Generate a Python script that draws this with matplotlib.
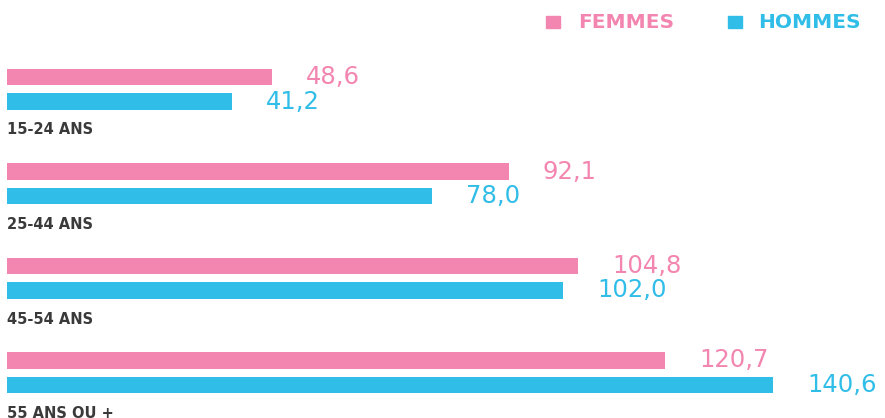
import matplotlib
matplotlib.use("Agg")
import matplotlib.pyplot as plt

categories = ["15-24 ANS", "25-44 ANS", "45-54 ANS", "55 ANS OU +"]
femmes = [48.6, 92.1, 104.8, 120.7]
hommes = [41.2, 78.0, 102.0, 140.6]
value_labels_f = ["48,6", "92,1", "104,8", "120,7"]
value_labels_h = ["41,2", "78,0", "102,0", "140,6"]
series_names = ["FEMMES", "HOMMES"]

PINK = "#F386B0"
BLUE = "#30BDE7"
DARK = "#3a3a3a"

W, H = 885, 418
fig = plt.figure(figsize=(W / 100, H / 100), dpi=100)
ax = fig.add_axes([0, 0, 1, 1])
scale = 5.45  # px per unit
ax.set_xlim(-7 / scale, (W - 7) / scale)
ax.set_ylim(H, 0)
ax.axis("off")

step = 94.5
bar_h = 16.5
yf0 = 77
yh0 = 101.5
lab0 = 130
gap = 34 / scale
font = "DejaVu Sans"

for i, cat in enumerate(categories):
    yf = yf0 + step * i
    yh = yh0 + step * i
    ax.barh(yf, femmes[i], height=bar_h, color=PINK, left=0)
    ax.barh(yh, hommes[i], height=bar_h, color=BLUE, left=0)
    ax.text(femmes[i] + gap, yf, value_labels_f[i], color=PINK, fontsize=17.5,
            va="center", ha="left", family=font)
    ax.text(hommes[i] + gap, yh, value_labels_h[i], color=BLUE, fontsize=17.5,
            va="center", ha="left", family=font)
    ax.text(0, lab0 + step * i, cat, color=DARK, fontsize=10.5, fontweight="bold",
            va="center", ha="left", family=font)

# legend
def px2x(px):
    return (px - 7) / scale

ax.add_patch(plt.Rectangle((px2x(546), 16), 14 / scale, 12, color=PINK, clip_on=False))
ax.text(px2x(578), 22, series_names[0], color=PINK, fontsize=14.5, fontweight="bold",
        va="center", ha="left", family=font)
ax.add_patch(plt.Rectangle((px2x(728), 16), 14 / scale, 12, color=BLUE, clip_on=False))
ax.text(px2x(758), 22, series_names[1], color=BLUE, fontsize=14.5, fontweight="bold",
        va="center", ha="left", family=font)

fig.savefig("out.png", dpi=100, facecolor="white")
